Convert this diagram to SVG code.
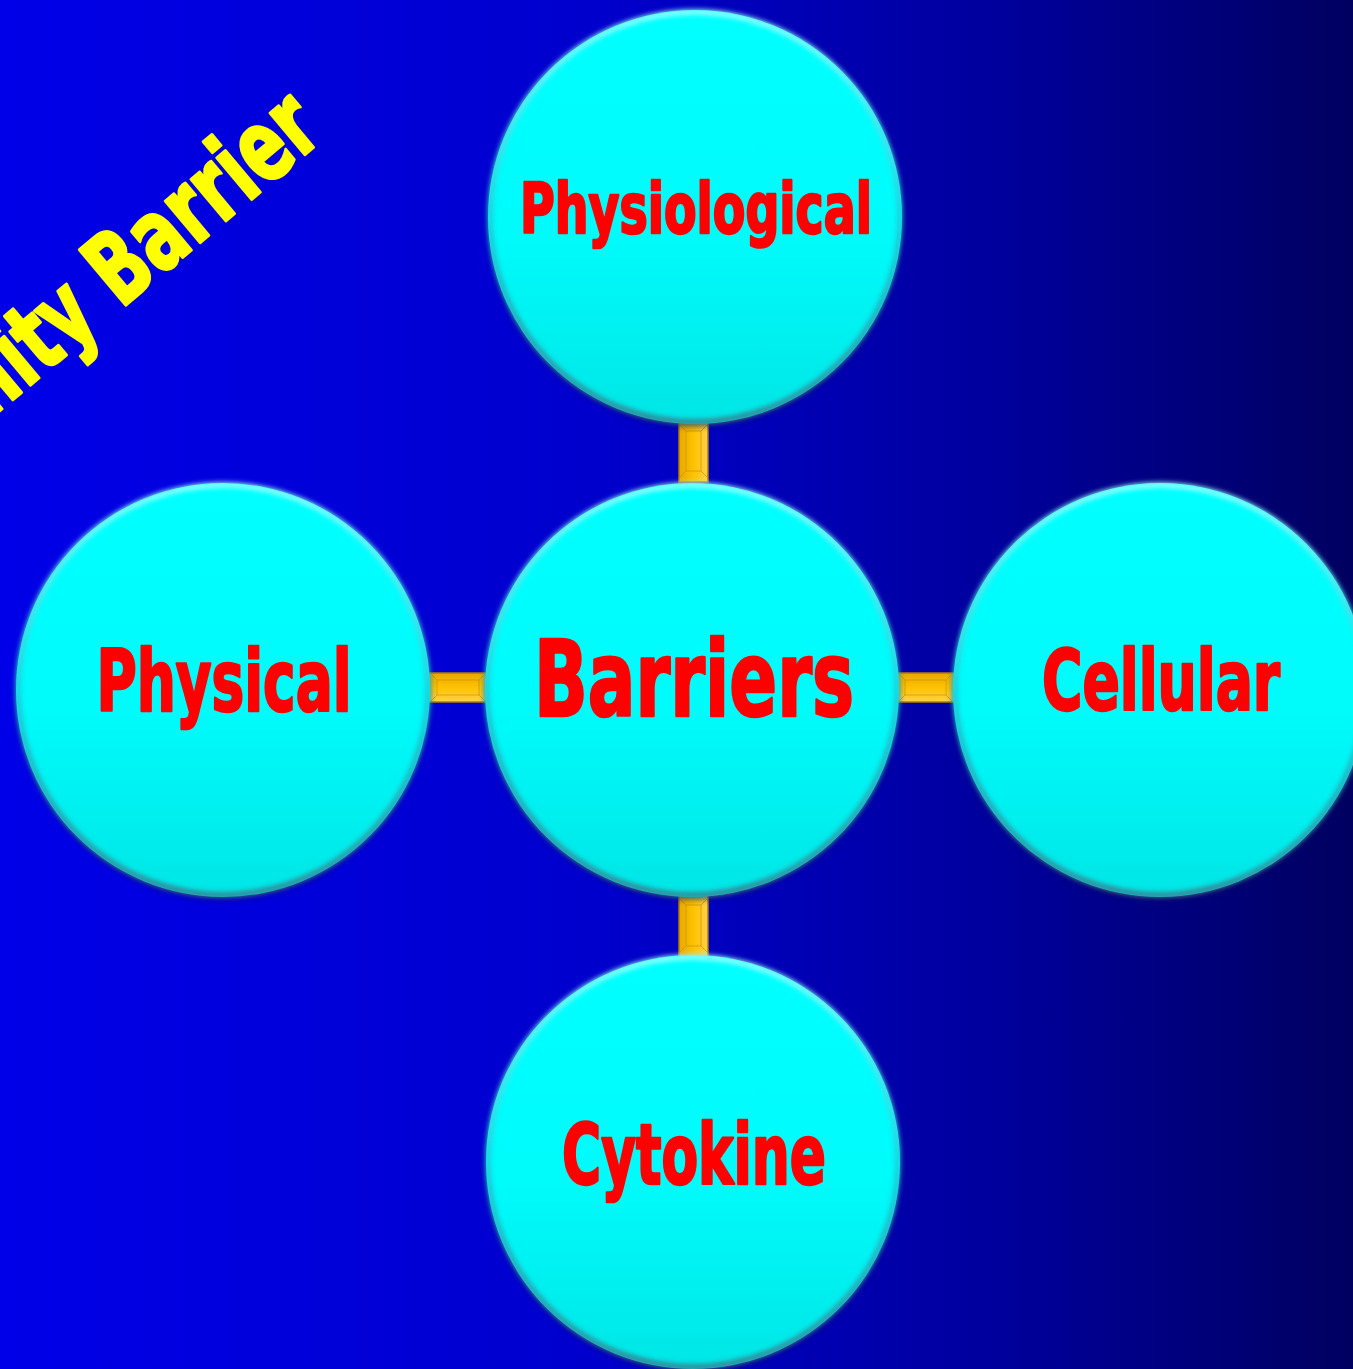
<svg xmlns="http://www.w3.org/2000/svg" width="1353" height="1369" viewBox="0 0 1353 1369">
  <defs>
    <linearGradient id="bg" x1="0" y1="0" x2="1" y2="0">
      <stop offset="0" stop-color="#0000E8"/>
      <stop offset="0.45" stop-color="#0000CC"/>
      <stop offset="0.75" stop-color="#00009A"/>
      <stop offset="1" stop-color="#000060"/>
    </linearGradient>
    <linearGradient id="ball" x1="0" y1="0" x2="0" y2="1">
      <stop offset="0" stop-color="#00FFFF"/>
      <stop offset="0.55" stop-color="#00FBFB"/>
      <stop offset="1" stop-color="#00E6E6"/>
    </linearGradient>
    <linearGradient id="rim" x1="0" y1="0" x2="0" y2="1">
      <stop offset="0" stop-color="#A0FFFF"/>
      <stop offset="0.5" stop-color="#20C8D8"/>
      <stop offset="1" stop-color="#3A7A8A"/>
    </linearGradient>
    <linearGradient id="goldV" x1="0" y1="0" x2="1" y2="0">
      <stop offset="0" stop-color="#E8A800"/>
      <stop offset="0.5" stop-color="#FFC200"/>
      <stop offset="1" stop-color="#FFD24A"/>
    </linearGradient>
    <linearGradient id="goldH" x1="0" y1="0" x2="0" y2="1">
      <stop offset="0" stop-color="#E8A800"/>
      <stop offset="0.5" stop-color="#FFC200"/>
      <stop offset="1" stop-color="#FFD24A"/>
    </linearGradient>
    <filter id="soft" x="-10%" y="-10%" width="120%" height="120%">
      <feGaussianBlur stdDeviation="2.5"/>
    </filter>
    <filter id="shadow" x="-10%" y="-10%" width="120%" height="125%">
      <feGaussianBlur stdDeviation="3"/>
    </filter>
  </defs>
  <style>
    .ball { fill: url(#ball); }
    .rim { fill: none; stroke: url(#rim); stroke-width: 5; filter: url(#soft); }
    .shade { fill: #000050; opacity: 0.45; filter: url(#shadow); }
    .bar { stroke: #B07C00; stroke-width: 1.5; }
    .bevel { fill: none; stroke: #C89400; stroke-width: 1; opacity: 0.7; }
    .label { font-family: "Liberation Sans Narrow", "DejaVu Sans Condensed", "Liberation Sans", sans-serif; font-weight: bold; fill: #FF0000; stroke: #FF0000; stroke-width: 2.5; stroke-linejoin: round; text-anchor: middle; }
    .title { font-family: "Liberation Sans Narrow", "DejaVu Sans Condensed", "Liberation Sans", sans-serif; font-weight: bold; fill: #FFFF00; stroke: #FFFF00; stroke-width: 3; stroke-linejoin: round; }
  </style>

  <rect x="0" y="0" width="1353" height="1369" fill="url(#bg)"/>

  <!-- rotated heading -->
  <text class="title" font-size="99" text-anchor="end" transform="translate(326,137) rotate(-40)" textLength="656" lengthAdjust="spacingAndGlyphs">Immunity Barrier</text>

  <!-- connectors -->
  <g id="connectors">
    <g id="link-top">
      <rect class="bar" x="679" y="420" width="29" height="62" fill="url(#goldV)"/>
      <path class="bevel" d="M679,424 L686,431 L701,431 L708,424 M679,478 L686,471 L701,471 L708,478 M686,431 L686,471 M701,431 L701,471"/>
    </g>
    <g id="link-bottom">
      <rect class="bar" x="679" y="894" width="29" height="63" fill="url(#goldV)"/>
      <path class="bevel" d="M679,898 L686,905 L701,905 L708,898 M679,953 L686,946 L701,946 L708,953 M686,905 L686,946 M701,905 L701,946"/>
    </g>
    <g id="link-left">
      <rect class="bar" x="426" y="673" width="64" height="29" fill="url(#goldH)"/>
      <path class="bevel" d="M430,673 L437,680 L437,695 L430,702 M486,673 L479,680 L479,695 L486,702 M437,680 L479,680 M437,695 L479,695"/>
    </g>
    <g id="link-right">
      <rect class="bar" x="894" y="673" width="64" height="29" fill="url(#goldH)"/>
      <path class="bevel" d="M898,673 L905,680 L905,695 L898,702 M953,673 L946,680 L946,695 L953,702 M905,680 L946,680 M905,695 L946,695"/>
    </g>
  </g>

  <!-- nodes -->
  <g id="node-physiological">
    <circle class="shade" cx="695" cy="220" r="207"/>
    <circle class="ball" cx="695" cy="217" r="207"/>
    <circle class="rim" cx="695" cy="217" r="205"/>
    <text class="label" x="696" y="233" font-size="70" textLength="352" lengthAdjust="spacingAndGlyphs">Physiological</text>
  </g>
  <g id="node-physical">
    <circle class="shade" cx="223" cy="693" r="207"/>
    <circle class="ball" cx="223" cy="690" r="207"/>
    <circle class="rim" cx="223" cy="690" r="205"/>
    <text class="label" x="224" y="711" font-size="86" textLength="255" lengthAdjust="spacingAndGlyphs">Physical</text>
  </g>
  <g id="node-barriers">
    <circle class="shade" cx="692" cy="693" r="207"/>
    <circle class="ball" cx="692" cy="690" r="207"/>
    <circle class="rim" cx="692" cy="690" r="205"/>
    <text class="label" x="694" y="716" font-size="106" textLength="320" lengthAdjust="spacingAndGlyphs">Barriers</text>
  </g>
  <g id="node-cellular">
    <circle class="shade" cx="1160" cy="693" r="207"/>
    <circle class="ball" cx="1160" cy="690" r="207"/>
    <circle class="rim" cx="1160" cy="690" r="205"/>
    <text class="label" x="1161" y="710" font-size="84" textLength="238" lengthAdjust="spacingAndGlyphs">Cellular</text>
  </g>
  <g id="node-cytokine">
    <circle class="shade" cx="693" cy="1165" r="207"/>
    <circle class="ball" cx="693" cy="1162" r="207"/>
    <circle class="rim" cx="693" cy="1162" r="205"/>
    <text class="label" x="694" y="1184" font-size="84" textLength="264" lengthAdjust="spacingAndGlyphs">Cytokine</text>
  </g>
</svg>
